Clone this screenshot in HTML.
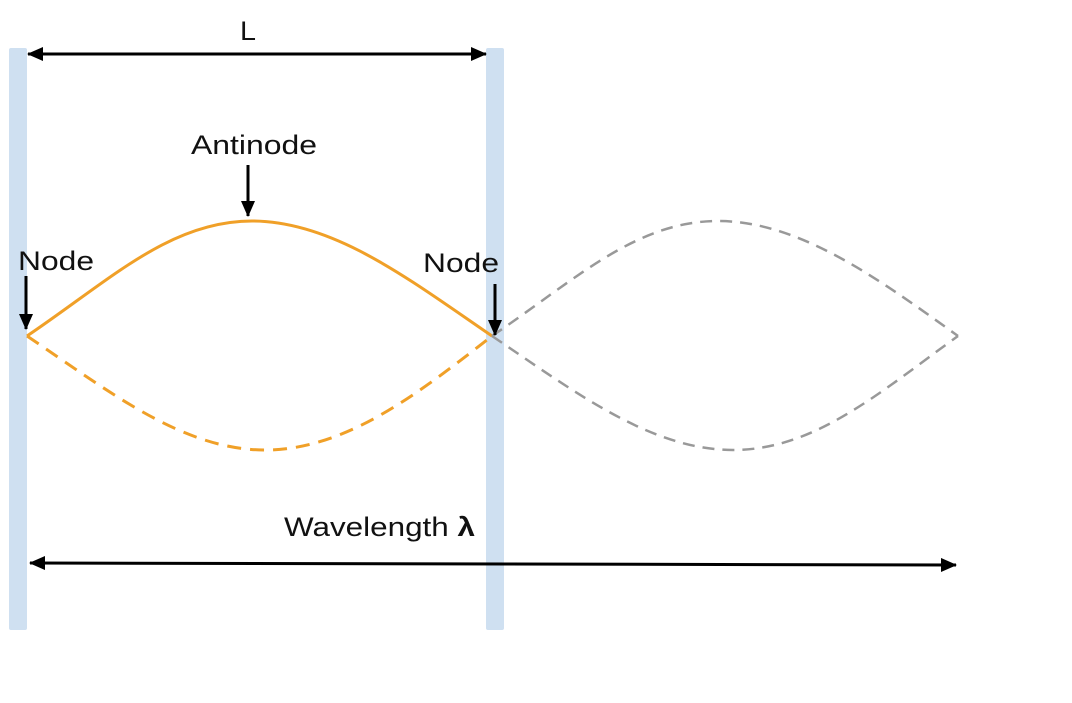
<!DOCTYPE html>
<html><head><meta charset="utf-8"><style>
html,body{margin:0;padding:0;background:#fff;}
svg{display:block;}
text{font-family:"Liberation Sans",sans-serif;font-size:27px;fill:#111;}
</style></head><body>
<svg width="1072" height="703" viewBox="0 0 1072 703">
<defs>
<marker id="ah2" markerWidth="16" markerHeight="14" refX="15" refY="7" orient="auto-start-reverse" markerUnits="userSpaceOnUse">
<path d="M0,0 L16,7 L0,14 z" fill="#000"/></marker>
</defs>
<rect x="9" y="48" width="18" height="582" rx="2" fill="#cfe0f1"/>
<rect x="486" y="48" width="18" height="582" rx="2" fill="#cfe0f1"/>
<path d="M27 336 C 110 280, 170 221, 252 221 C 334 221, 410 280, 492 336" fill="none" stroke="#f0a028" stroke-width="3"/>
<path d="M27 336 C 110 392, 183 450, 265 450 C 347 450, 420 392, 492 336" fill="none" stroke="#f0a028" stroke-width="3" stroke-dasharray="14,9"/>
<path d="M492 336 C 575 280, 636 221, 718 221 C 800 221, 880 280, 958 336" fill="none" stroke="#999" stroke-width="2.5" stroke-dasharray="12,8"/>
<path d="M492 336 C 575 392, 651 450, 733 450 C 815 450, 880 392, 958 336" fill="none" stroke="#999" stroke-width="2.5" stroke-dasharray="12,8"/>
<line x1="28" y1="54" x2="486" y2="54" stroke="#000" stroke-width="3" marker-start="url(#ah2)" marker-end="url(#ah2)"/>
<text x="240" y="40" textLength="16" lengthAdjust="spacingAndGlyphs">L</text>
<line x1="30" y1="563" x2="956" y2="565" stroke="#000" stroke-width="3" marker-start="url(#ah2)" marker-end="url(#ah2)"/>
<text x="284" y="536" textLength="191" lengthAdjust="spacingAndGlyphs">Wavelength <tspan font-weight="bold">λ</tspan></text>
<text x="191" y="154" textLength="126" lengthAdjust="spacingAndGlyphs">Antinode</text>
<line x1="248" y1="165" x2="248" y2="216" stroke="#000" stroke-width="3" marker-end="url(#ah2)"/>
<text x="18" y="270" textLength="76" lengthAdjust="spacingAndGlyphs">Node</text>
<line x1="26" y1="276" x2="26" y2="329" stroke="#000" stroke-width="3" marker-end="url(#ah2)"/>
<text x="423" y="272" textLength="76" lengthAdjust="spacingAndGlyphs">Node</text>
<line x1="495" y1="284" x2="495" y2="335" stroke="#000" stroke-width="3" marker-end="url(#ah2)"/>
</svg>
</body></html>
